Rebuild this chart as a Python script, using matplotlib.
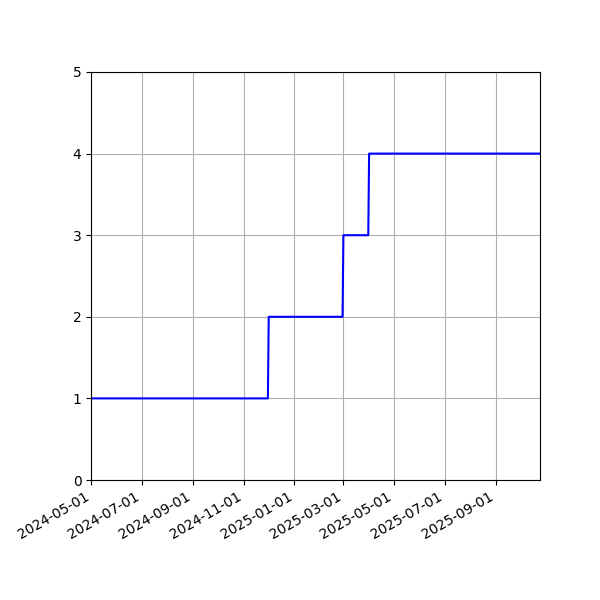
import numpy as np
import pandas as pd
import matplotlib
matplotlib.use("Agg")
import matplotlib.pyplot as plt
import matplotlib.dates as mdates

# daily count, only change points listed
dates = pd.to_datetime([
    "2024-05-01", "2024-11-30", "2024-12-01", "2025-02-28",
    "2025-03-01", "2025-03-31", "2025-04-01", "2025-10-24",
])
counts = [1, 1, 2, 2, 3, 3, 4, 4]

tick_dates = pd.date_range("2024-05-01", "2025-09-01", freq="2MS")

fig = plt.figure(figsize=(6, 6), dpi=100)
ax = fig.add_axes([0.152, 0.2, 0.748, 0.68])
ax.plot(dates, counts, color="blue")

ax.set_xlim(dates[0], dates[-1])
ax.set_ylim(0, 5)
ax.set_xticks(tick_dates)
ax.xaxis.set_major_formatter(mdates.DateFormatter("%Y-%m-%d"))
ax.grid(True)
for lbl in ax.get_xticklabels():
    lbl.set_rotation(30)
    lbl.set_ha("right")

fig.savefig("out.png")
